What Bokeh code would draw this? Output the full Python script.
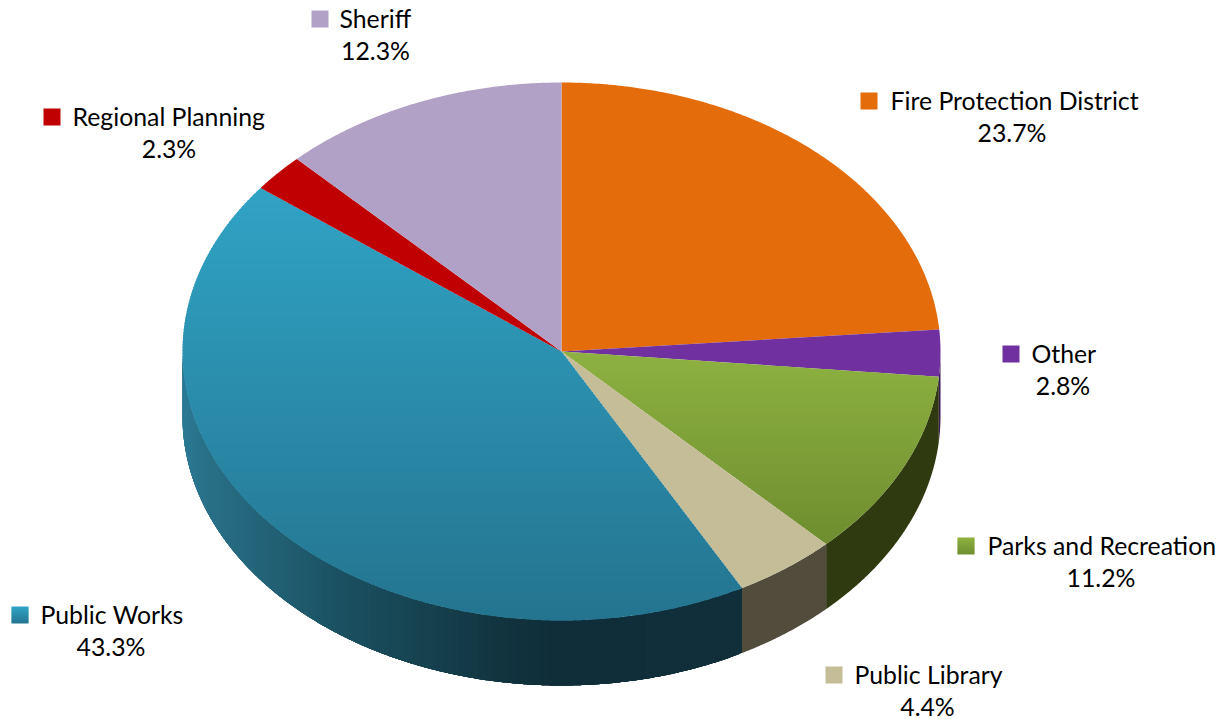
from bokeh.core.properties import value
from bokeh.embed import file_html
from bokeh.models import ColumnDataSource
from bokeh.plotting import figure
from bokeh.resources import INLINE
import math

# Budget shares, clockwise from twelve o'clock
names = ["Fire Protection District", "Other", "Parks and Recreation", "Public Library",
         "Public Works", "Regional Planning", "Sheriff"]
shares = [23.7, 2.8, 11.2, 4.4, 43.3, 2.3, 12.3]

# Face colours (top of slice, bottom of slice)
face_top = ["#E46C0A", "#7030A0", "#8DB141", "#C4BD97", "#30A3C5", "#C00000", "#B2A1C7"]
face_bottom = ["#E46C0A", "#7030A0", "#6E8D2F", "#C4BD97", "#24748F", "#C00000", "#B2A1C7"]

# Rim colours along the visible front wall: (x position, colour)
wall_stops = [
    [(0, "#E46C0A")],
    [(0, "#3B1A56")],
    [(0, "#2F3A11")],
    [(0, "#524C3C")],
    [(181, "#2C7B96"), (203, "#2A7189"), (336, "#1B5263"), (503, "#12343F"), (553, "#0F2E3A"), (742, "#102F3B")],
    [(0, "#600000")],
    [(0, "#5A5064")],
]

# Label placement: key left, key top, text left, text right
key_left = [860, 1002, 957, 825, 11, 43, 311]
key_top = [92, 345, 537, 666, 606, 108, 10]
text_left = [890, 1031, 987, 854, 40, 72, 339]
text_right = [1133, 1094, 1214, 1000, 181, 265, 411]
KEY = 17
LINE = 32

CX, CY, RX, RY, DEPTH = 561, 351, 379, 269, 65
FONT = "Lato"
FONT_SIZE = "24.8px"


def rim(t_deg, drop=0.0):
    t = math.radians(t_deg)
    return CX + RX * math.sin(t), CY - RY * math.cos(t) + drop


def hex_rgb(c):
    return tuple(int(c[i:i + 2], 16) for i in (1, 3, 5))


def mix(a, b, f):
    ra, rb = hex_rgb(a), hex_rgb(b)
    return "#%02X%02X%02X" % tuple(round(x + (y - x) * f) for x, y in zip(ra, rb))


def colour_at(stops, x):
    if x <= stops[0][0] or len(stops) == 1:
        return stops[0][1]
    for (x0, c0), (x1, c1) in zip(stops, stops[1:]):
        if x <= x1:
            return mix(c0, c1, (x - x0) / (x1 - x0))
    return stops[-1][1]


def clip_band(poly, y0, y1):
    """Clip a polygon to the horizontal band y0..y1."""
    def clip(pts, inside, limit):
        out = []
        for i, a in enumerate(pts):
            b = pts[(i + 1) % len(pts)]
            ia, ib = inside(a), inside(b)
            if ia:
                out.append(a)
            if ia != ib:
                f = (limit - a[1]) / (b[1] - a[1])
                out.append((a[0] + (b[0] - a[0]) * f, limit))
        return out
    pts = clip(poly, lambda p: p[1] >= y0, y0)
    if pts:
        pts = clip(pts, lambda p: p[1] <= y1, y1)
    return pts


def wall_outline(t0, t1):
    """Arc from t0 to t1 along the upper rim, back along the lower rim."""
    n = max(2, int((t1 - t0) / 0.25))
    ts = [t0 + (t1 - t0) * k / n for k in range(n + 1)]
    return [rim(t) for t in ts] + [rim(t, DEPTH) for t in reversed(ts)]


p = figure(width=1227, height=719, x_range=(0, 1227), y_range=(719, 0),
           output_backend="svg", toolbar_location=None, min_border=0)
p.axis.visible = False
p.grid.visible = False
p.outline_line_color = None
p.background_fill_color = "white"
p.border_fill_color = "white"

# Slice boundaries in degrees
edges = [0.0]
for s in shares:
    edges.append(edges[-1] + s * 3.6)

# Front wall: flat slices as one shape, shaded slices as overlapping arc pieces
for i in range(len(shares)):
    t0, t1 = max(edges[i], 90.0), min(edges[i + 1], 270.0)
    if t1 <= t0:
        continue
    stops = wall_stops[i]
    if len(stops) == 1:
        outline = wall_outline(t0, t1)
        p.patch([q[0] for q in outline], [q[1] for q in outline], fill_color=stops[0][1], line_color=None)
        continue
    n = int((t1 - t0) / 0.5)
    xs, ys, fills = [], [], []
    for k in range(n):
        # Walk from the far end so each piece keeps its overlap hidden beneath the next
        a = t0 + (t1 - t0) * k / n
        b = min(t1, a + (t1 - t0) / n + 2.0)
        outline = wall_outline(a, b)
        xs.append([q[0] for q in outline])
        ys.append([q[1] for q in outline])
        fills.append(colour_at(stops, rim(a)[0]))
    p.patches(xs="x", ys="y", fill_color="c", line_color=None,
              source=ColumnDataSource(dict(x=xs, y=ys, c=fills)))

# Top face: slices filled by vertical gradient bands
for i in range(len(shares)):
    n = max(2, int((edges[i + 1] - edges[i]) / 0.25))
    poly = [(CX, CY)] + [rim(edges[i] + (edges[i + 1] - edges[i]) * k / n) for k in range(n + 1)]
    if face_top[i] == face_bottom[i]:
        p.patch([q[0] for q in poly], [q[1] for q in poly], fill_color=face_top[i], line_color=None)
        continue
    y_min = min(q[1] for q in poly)
    y_max = max(q[1] for q in poly)
    xs, ys, fills = [], [], []
    y = y_min
    while y < y_max:
        band = clip_band(poly, y, min(y + 4, y_max))
        if len(band) >= 3:
            xs.append([q[0] for q in band])
            ys.append([q[1] for q in band])
            fills.append(mix(face_top[i], face_bottom[i], (y - y_min) / (y_max - y_min)))
        y += 3
    p.patches(xs="x", ys="y", fill_color="c", line_color=None,
              source=ColumnDataSource(dict(x=xs, y=ys, c=fills)))

# Legend keys and labels beside the pie
for i, name in enumerate(names):
    left, top = key_left[i], key_top[i]
    steps = KEY if face_top[i] != face_bottom[i] else 1
    h = KEY / steps
    p.quad(left=left, right=left + KEY,
           top=[top + h * k for k in range(steps)],
           bottom=[top + min(h * (k + 1) + 0.5, KEY) for k in range(steps)],
           fill_color=[mix(face_top[i], face_bottom[i], k / steps) for k in range(steps)],
           line_color=None)
    mid = top + KEY / 2 - 1
    p.text(x=[text_left[i]], y=[mid], text=[name], text_font=value(FONT), text_font_size=FONT_SIZE,
           text_color="#000000", text_align="left", text_baseline="middle")
    p.text(x=[(text_left[i] + text_right[i]) / 2], y=[mid + LINE], text=[f"{shares[i]}%"],
           text_font=value(FONT), text_font_size=FONT_SIZE,
           text_color="#000000", text_align="center", text_baseline="middle")

open("out.html", "w").write(file_html(p, INLINE))
